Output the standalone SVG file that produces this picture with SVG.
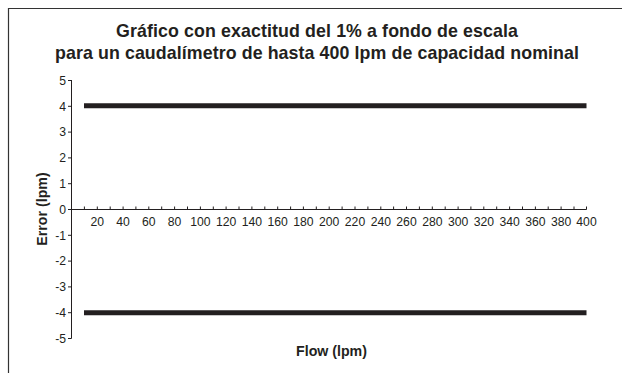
<svg xmlns="http://www.w3.org/2000/svg" width="622" height="373" viewBox="0 0 622 373">
<style>
.t{font-family:"Liberation Sans",Arial,sans-serif;fill:#231f20}
.title{font-size:17.8px;font-weight:bold;text-anchor:middle}
.lab{font-size:14.2px;font-weight:bold;text-anchor:middle}
.tick{font-size:12.2px}
.ax{stroke:#231f20;stroke-width:1;fill:none}
.band{stroke:#231f20;stroke-width:5}
</style>
<rect width="622" height="373" fill="#fff"/>
<path d="M8.5 373V8.5H622" stroke="#333" stroke-width="1.2" fill="none"/>
<g id="title">
<text class="t title" x="317" y="36.5" textLength="402" lengthAdjust="spacing">Gráfico con exactitud del 1% a fondo de escala</text>
<text class="t title" x="317" y="58.5" textLength="524" lengthAdjust="spacing">para un caudalímetro de hasta 400 lpm de capacidad nominal</text>
</g>
<g id="axes">
<path class="ax" d="M71.5 80V338.5"/>
<path class="ax" d="M71.5 209.5H586.5"/>
<path class="ax" d="M68 80.5H71.5M68 106.3H71.5M68 132.1H71.5M68 157.9H71.5M68 183.7H71.5M68 209.5H71.5M68 235.3H71.5M68 261.1H71.5M68 286.9H71.5M68 312.7H71.5M68 338.5H71.5"/>
<path class="ax" d="M84.4 206.5V209.5M97.3 206.5V209.5M110.2 206.5V209.5M123.1 206.5V209.5M135.9 206.5V209.5M148.8 206.5V209.5M161.7 206.5V209.5M174.6 206.5V209.5M187.5 206.5V209.5M200.4 206.5V209.5M213.3 206.5V209.5M226.1 206.5V209.5M239 206.5V209.5M251.9 206.5V209.5M264.8 206.5V209.5M277.7 206.5V209.5M290.6 206.5V209.5M303.4 206.5V209.5M316.3 206.5V209.5M329.2 206.5V209.5M342.1 206.5V209.5M355 206.5V209.5M367.9 206.5V209.5M380.8 206.5V209.5M393.6 206.5V209.5M406.5 206.5V209.5M419.4 206.5V209.5M432.3 206.5V209.5M445.2 206.5V209.5M458.1 206.5V209.5M470.9 206.5V209.5M483.8 206.5V209.5M496.7 206.5V209.5M509.6 206.5V209.5M522.5 206.5V209.5M535.4 206.5V209.5M548.2 206.5V209.5M561.1 206.5V209.5M574 206.5V209.5M586.5 206.5V209.5"/>
<g class="t tick" text-anchor="end">
<text x="66" y="84.7">5</text>
<text x="66" y="110.5">4</text>
<text x="66" y="136.3">3</text>
<text x="66" y="162.1">2</text>
<text x="66" y="187.9">1</text>
<text x="66" y="213.7">0</text>
<text x="66" y="239.5">-1</text>
<text x="66" y="265.3">-2</text>
<text x="66" y="291.1">-3</text>
<text x="66" y="316.9">-4</text>
<text x="66" y="342.7">-5</text>
</g>
<g class="t tick" text-anchor="middle">
<text x="97.3" y="225.5">20</text>
<text x="123.1" y="225.5">40</text>
<text x="148.8" y="225.5">60</text>
<text x="174.6" y="225.5">80</text>
<text x="200.4" y="225.5">100</text>
<text x="226.1" y="225.5">120</text>
<text x="251.9" y="225.5">140</text>
<text x="277.7" y="225.5">160</text>
<text x="303.4" y="225.5">180</text>
<text x="329.2" y="225.5">200</text>
<text x="355" y="225.5">220</text>
<text x="380.8" y="225.5">240</text>
<text x="406.5" y="225.5">260</text>
<text x="432.3" y="225.5">280</text>
<text x="458.1" y="225.5">300</text>
<text x="483.8" y="225.5">320</text>
<text x="509.6" y="225.5">340</text>
<text x="535.4" y="225.5">360</text>
<text x="561.1" y="225.5">380</text>
<text x="586.5" y="225.5">400</text>
</g>
<text class="t lab" x="331.5" y="356">Flow (lpm)</text>
<text class="t lab" transform="translate(47 209) rotate(-90)">Error (lpm)</text>
</g>
<g id="series">
<path class="band" d="M84 105.8H586.5"/>
<path class="band" d="M84 312.7H586.5"/>
</g>
</svg>
